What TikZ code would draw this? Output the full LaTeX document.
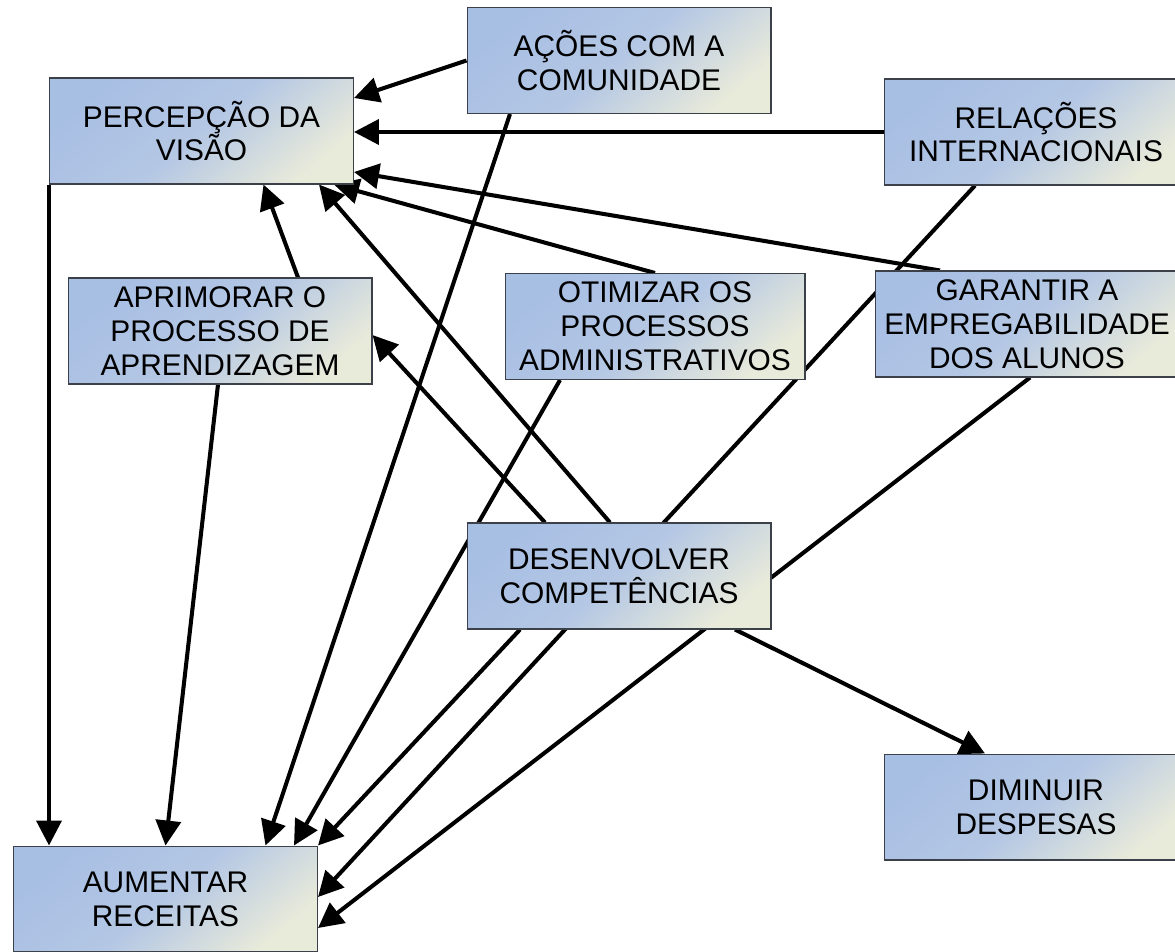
\documentclass[tikz,border=0pt]{standalone}
\usepackage{fontspec}
\setmainfont{Liberation Sans}
\usetikzlibrary{arrows.meta,calc,backgrounds}

\definecolor{goalblue}{HTML}{A8BFE4}
\definecolor{goalmid}{HTML}{B4C7E4}
\definecolor{goalcream}{HTML}{E8EADA}
\definecolor{goalline}{HTML}{3C4048}

\tikzset{
  goal/.style={rectangle, draw=goalline, line width=0.6pt,
    left color=goalblue, right color=goalcream, middle color=goalmid,
    shading angle=40, minimum width=6.08cm, minimum height=2.12cm,
    inner sep=2pt, align=center, font=\fontsize{17}{19.3}\selectfont},
  link/.style={line width=2.3pt, -{Triangle[length=0.5cm,width=0.5cm]}}
}

\begin{document}
\begin{tikzpicture}[x=0.02cm, y=-0.02cm]
        \useasboundingbox (0,0) rectangle (1175,951);
        \clip (0,0) rectangle (1175,951);

        \node[goal] (perc) at (201.5,131) {PERCEPÇÃO DA\\VISÃO};
        \node[goal] (acoes) at (619,60.5) {AÇÕES COM A\\COMUNIDADE};
        \node[goal] (rel) at (1036,132) {RELAÇÕES\\INTERNACIONAIS};
        \node[goal] (apr) at (220,331) {APRIMORAR O\\PROCESSO DE\\APRENDIZAGEM};
        \node[goal, minimum width=6cm] (otim) at (655,326.5) {OTIMIZAR OS\\PROCESSOS\\ADMINISTRATIVOS};
        \node[goal] (gar) at (1027,324) {GARANTIR A\\EMPREGABILIDADE\\DOS ALUNOS};
        \node[goal] (des) at (619,576) {DESENVOLVER\\COMPETÊNCIAS};
        \node[goal] (dim) at (1036,807) {DIMINUIR\\DESPESAS};
        \node[goal] (aum) at (165.5,899) {AUMENTAR\\RECEITAS};

        \begin{scope}[on background layer]
        % into the vision
        \path[link] (acoes.west) edge ($(perc.east)+(0,-33)$);
        \path[link] (rel.west) edge (rel.west -| perc.east);
        \path[link] ($(gar.north)+(-87,0)$) edge ($(perc.east)+(0,41)$);
        \path[link] (otim.north) edge ($(perc.south east)+(-20,0)$);
        \path[link] ($(des.north)+(-9,0)$) edge ($(perc.south east)+(-35,0)$);
        \path[link] ($(apr.north)+(78,0)$) edge ($(perc.south)+(62,0)$);
        %
        \path[link] ($(des.north)+(-74,0)$) edge ($(apr.east)+(0,4)$);
        % into the revenue
        \path[link] (perc.south west) edge (perc.south west |- aum.north);
        \path[link] ($(apr.south)+(-2,0)$) edge (aum.north);
        \path[link] ($(acoes.south)+(-109,0)$) edge ($(aum.north)+(100,0)$);
        \path[link] ($(otim.south)+(-95,0)$) edge ($(aum.north east)+(-24,0)$);
        \path[link] ($(des.south)+(-99,0)$) edge (aum.north east);
        \path[link] ($(rel.south)+(-61,0)$) edge ($(aum.east)+(0,-2)$);
        \path[link] ($(gar.south)+(3,0)$) edge ($(aum.east)+(0,29)$);
        %
        \path[link] ($(des.south)+(116,0)$) edge ($(dim.north)+(-51,0)$);
        \end{scope}
    \end{tikzpicture}
\end{document}
